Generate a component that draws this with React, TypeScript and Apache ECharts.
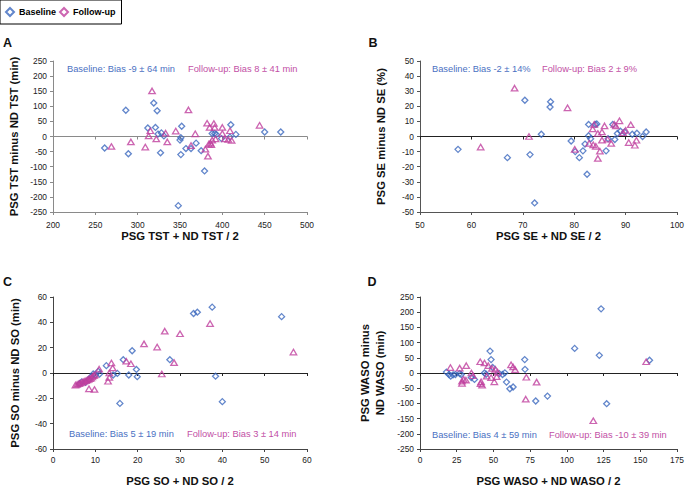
import React, { useEffect, useRef } from "react";
import * as echarts from "echarts";

// ---- Data (x = mean of PSG and ND, y = PSG minus ND) ----
const tstBaseline: number[][] = [
  [261, -38], [286, 87], [289, -57], [312, 28], [319, 111], [321, 30], [323, 85], [324, 8],
  [328, 12], [327, -54], [331, 2], [348, -229], [350, -12], [351, -4], [352, 34], [351, -60],
  [357, -40], [363, -40], [369, -22], [375, -47], [379, -114], [388, 10], [391, 10], [393, 7],
  [399, -7], [409, -2], [410, 39], [416, 7], [450, 15], [469, 15],
];
const tstFollowUp: number[][] = [
  [269, -33], [292, -18], [309, -35], [313, 2], [315, 19], [317, 151], [322, -8], [333, 11],
  [335, -18], [345, 18], [360, 88], [363, -30], [368, 9], [380, -42], [382, 44], [383, -65],
  [385, 30], [386, -22], [387, -27], [388, -12], [390, 43], [391, 30], [392, -8], [400, 30],
  [400, 10], [403, -8], [409, 19], [411, -13], [444, 37], [407, -10], [384, -25],
];
const seBaseline: number[][] = [
  [57.4, -8.5], [67, -14], [70.4, 24], [71.4, -12], [72.3, -44], [73.6, 1.5], [75.4, 23],
  [75.3, 19.5], [79.4, -3], [80.2, -10], [81, -14], [81.7, -9.5], [82.1, -5], [82.5, -25],
  [82.8, 8], [82.8, 0.5], [83.2, -1.5], [84.1, 8], [84.4, 8.3], [86.2, -9.5], [86.6, -1.5],
  [87.5, 8], [87.9, -2], [88.4, 2], [89, 3.5], [89.8, 3], [91.3, 1.5], [92.2, 2.2], [93.3, 0],
  [94, 3],
];
const seFollowUp: number[][] = [
  [61.8, -7], [68.4, 32], [71.2, 0], [78.7, 19], [80.1, -8.5], [82.9, -4.5], [83.6, 5],
  [83.9, 8], [83.7, -5.5], [84.2, -6.5], [84.6, -14.5], [84.6, 2], [85.4, 3], [85.4, -2.4],
  [85, -9.7], [85.9, 7], [86.5, -1.8], [87.2, -4.6], [87.8, 8], [88.1, 7], [88.8, 10.4],
  [89.5, 2.5], [90, 4], [91, 7.8], [90.6, -4], [91.8, -5.8], [92.1, -2.5],
];
const soBaseline: number[][] = [
  [33.2, 47], [34.1, 48], [37.6, 52], [54, 44.5], [38.4, -2.5], [40, -22.6], [15.8, -24],
  [16.6, 10.5], [18.7, 17.6], [17.9, -1.6], [19.7, 2.8], [19.9, -2.9], [27.6, 10.5],
  [15.2, -0.3], [14.2, -1.6], [12.6, 5.8], [10.7, 1.3], [11, -0.8], [9.5, -0.8], [7.7, -7.4],
  [6.3, -8.5], [8.5, -5], [9, -3], [10, -1.5], [6.8, -7],
];
const soFollowUp: number[][] = [
  [5.3, -9.5], [5.7, -9], [6.1, -8.5], [6.4, -8], [6.8, -7.5], [7.1, -7], [7.4, -6.5],
  [7.8, -6], [8.1, -5.5], [8.4, -5], [8.7, -4.5], [9, -4], [9.3, -3], [9.6, -2], [9.9, -1.5],
  [10.9, 3], [8.5, -12.5], [9.8, -13], [13, -6.5], [13.3, -3.5], [13.3, 0], [13.8, 7.9],
  [14.1, 4], [17.3, 9.3], [18.4, 7.3], [21.5, 23], [24.6, 20.5], [25.7, -0.8], [26.4, 33],
  [28.6, 8.2], [30, 31], [37.1, 39], [56.8, 16.5],
];
const wasoBaseline: number[][] = [
  [18, 3], [19.8, -5], [20.9, -10.5], [22.5, -6], [24.1, -5], [27, -2], [28.1, -5],
  [34.9, -15], [37.1, -21], [43.9, 0], [45, -4], [47.7, 72], [48.4, 44], [49.5, 18], [54, -2],
  [56.2, -5], [57.8, 0.5], [58.9, -30], [61.2, -52], [63.4, -46], [71.3, 44], [71.5, 12],
  [78.8, -92], [86.8, -76], [105.3, 81], [122.1, 58], [123.3, 211], [127.1, -101], [156.3, 42],
];
const wasoFollowUp: number[][] = [
  [20.7, 18], [27, 16], [31.5, 24], [28.6, -27], [28.6, -34], [29.7, -21], [31.3, -23.5],
  [35, 0], [36, -9], [41, 37], [43.9, 33], [41.6, -29], [42.3, -40], [41.2, -35], [45.4, -10.5],
  [46.5, 24], [48.4, -15], [49, 15], [50.6, -29], [51.3, 12], [52.2, -12], [52.8, 3], [62, 27],
  [63.4, 20], [64.8, 11], [72.4, -14], [72, -86], [79.4, -30], [118, -157], [154, 37],
];

// axis ranges [min, max, interval]
const tstX = [200, 500, 50];
const tstY = [-250, 250, 50];
const seX = [50, 100, 10];
const seY = [-50, 50, 10];
const soX = [0, 60, 10];
const soY = [-60, 60, 20];
const wasoX = [0, 175, 25];
const wasoY = [-250, 250, 50];

const seriesNames = ["Baseline", "Follow-up"];
const panelLetters = ["A", "B", "C", "D"];
const xTitles = ["PSG TST + ND TST / 2", "PSG SE + ND SE / 2", "PSG SO + ND SO / 2", "PSG WASO + ND WASO / 2"];
const yTitles = ["PSG TST minus ND TST (min)", "PSG SE minus ND SE (%)", "PSG SO minus ND SO (min)", "PSG WASO minus\nND WASO (min)"];
const baselineNotes = ["Baseline: Bias -9 ± 64 min", "Baseline: Bias -2 ± 14%", "Baseline: Bias 5 ± 19 min", "Baseline: Bias 4 ± 59 min"];
const followNotes = ["Follow-up: Bias 8 ± 41 min", "Follow-up: Bias 2 ± 9%", "Follow-up: Bias 3 ± 14 min", "Follow-up: Bias -10 ± 39 min"];

const BLUE = "#3B68BE";
const PINK = "#BF3E9D";
const BLUE_TXT = "#4A70C2";
const PINK_TXT = "#C24FA5";
const FONT = "'Liberation Sans', Arial, sans-serif";

const panels = [
  { grid: { left: 53, top: 61, width: 254, height: 151 }, x: tstX, y: tstY, b: tstBaseline, f: tstFollowUp, axisColor: "#8a8a8a", zeroColor: "#8a8a8a", xGap: 18, yGap: 33, lblMargin: 9, lineH: 12,
    letter: [7.5, 42.7], notes: [[67, 69], [188, 69]] },
  { grid: { left: 420, top: 61, width: 259, height: 151 }, x: seX, y: seY, b: seBaseline, f: seFollowUp, axisColor: "#555", zeroColor: "#222", xGap: 18, yGap: 33, lblMargin: 9, lineH: 12,
    letter: [373, 42.7], notes: [[432, 69], [542, 69]] },
  { grid: { left: 53, top: 297, width: 254, height: 152 }, x: soX, y: soY, b: soBaseline, f: soFollowUp, axisColor: "#444", zeroColor: "#222", xGap: 26, yGap: 32.5, lblMargin: 7, lineH: 12,
    letter: [7.5, 281.5], notes: [[69, 434], [187, 434]] },
  { grid: { left: 420, top: 297, width: 259, height: 152 }, x: wasoX, y: wasoY, b: wasoBaseline, f: wasoFollowUp, axisColor: "#444", zeroColor: "#222", xGap: 26, yGap: 33, lblMargin: 7, lineH: 14.5,
    letter: [372, 281.5], notes: [[432, 435], [549, 435]] },
];

export default function App() {
  const ref = useRef<HTMLDivElement>(null);
  useEffect(() => {
    if (!ref.current) return;
    const chart = echarts.init(ref.current, undefined, { renderer: "svg" });
    const grids: any[] = [];
    const xAxes: any[] = [];
    const yAxes: any[] = [];
    const series: any[] = [];
    const graphics: any[] = [];
    panels.forEach((p, i) => {
      grids.push({ ...p.grid, containLabel: false });
      xAxes.push({
        gridIndex: i, type: "value", position: "bottom",
        min: p.x[0], max: p.x[1], interval: p.x[2],
        axisLine: { show: true, onZero: false, lineStyle: { color: p.axisColor, width: 1 } },
        axisTick: { show: true, length: 3, lineStyle: { color: p.axisColor } },
        axisLabel: { fontFamily: FONT, fontSize: 8.4, color: "#222", margin: p.lblMargin },
        splitLine: { show: false },
        name: xTitles[i], nameLocation: "middle", nameGap: p.xGap,
        nameTextStyle: { fontFamily: FONT, fontWeight: "bold", fontSize: 11.3, color: "#111", verticalAlign: "top" },
      });
      xAxes.push({
        gridIndex: i, type: "value", position: "bottom",
        min: p.x[0], max: p.x[1], interval: p.x[2],
        axisLine: { show: true, onZero: true, lineStyle: { color: p.zeroColor, width: 1 } },
        axisTick: { show: true, length: 3, lineStyle: { color: p.zeroColor } },
        axisLabel: { show: false },
        splitLine: { show: false },
      });
      yAxes.push({
        gridIndex: i, type: "value", position: "left",
        min: p.y[0], max: p.y[1], interval: p.y[2],
        axisLine: { show: true, onZero: false, lineStyle: { color: p.axisColor, width: 1 } },
        axisTick: { show: true, length: 3, lineStyle: { color: p.axisColor } },
        axisLabel: { fontFamily: FONT, fontSize: 8.4, color: "#222", margin: 6 },
        splitLine: { show: false },
        name: yTitles[i], nameLocation: "middle", nameGap: p.yGap, nameRotate: 90,
        nameTextStyle: { fontFamily: FONT, fontWeight: "bold", fontSize: 11.3, color: "#111", lineHeight: p.lineH },
      });
      series.push({
        name: seriesNames[0], type: "scatter", xAxisIndex: i * 2, yAxisIndex: i,
        data: p.b, symbol: "diamond", symbolSize: 6,
        itemStyle: { color: "rgba(255,255,255,0)", borderColor: BLUE, borderWidth: 1.3 },
      });
      series.push({
        name: seriesNames[1], type: "scatter", xAxisIndex: i * 2, yAxisIndex: i,
        data: p.f, symbol: "triangle", symbolSize: [6.5, 5.5],
        itemStyle: { color: "rgba(255,255,255,0)", borderColor: PINK, borderWidth: 1.3 },
      });
      graphics.push({
        type: "text", x: p.letter[0], y: p.letter[1],
        style: { text: panelLetters[i], font: `bold 12.5px ${FONT}`, fill: "#111", textAlign: "center", verticalAlign: "middle" },
      });
      graphics.push({
        type: "text", x: p.notes[0][0], y: p.notes[0][1],
        style: { text: baselineNotes[i], font: `9.3px ${FONT}`, fill: BLUE_TXT, verticalAlign: "middle" },
      });
      graphics.push({
        type: "text", x: p.notes[1][0], y: p.notes[1][1],
        style: { text: followNotes[i], font: `9.3px ${FONT}`, fill: PINK_TXT, verticalAlign: "middle" },
      });
    });
    chart.setOption({
      animation: false,
      backgroundColor: "#fff",
      legend: {
        left: 0, top: 0, orient: "horizontal", selectedMode: false,
        data: [{ name: "Baseline", icon: "diamond" }, { name: "Follow-up", icon: "diamond" }],
        itemWidth: 8, itemHeight: 8, itemGap: 3,
        padding: [7, 6, 7, 5],
        borderColor: "#000", borderWidth: 1,
        textStyle: { fontFamily: FONT, fontWeight: "bold", fontSize: 9, color: "#000" },
      },
      grid: grids,
      xAxis: xAxes,
      yAxis: yAxes,
      series,
      graphic: graphics,
    });
    return () => chart.dispose();
  }, []);
  return <div ref={ref} style={{ position: "absolute", left: 0, top: 0, width: 687, height: 487 }} />;
}
